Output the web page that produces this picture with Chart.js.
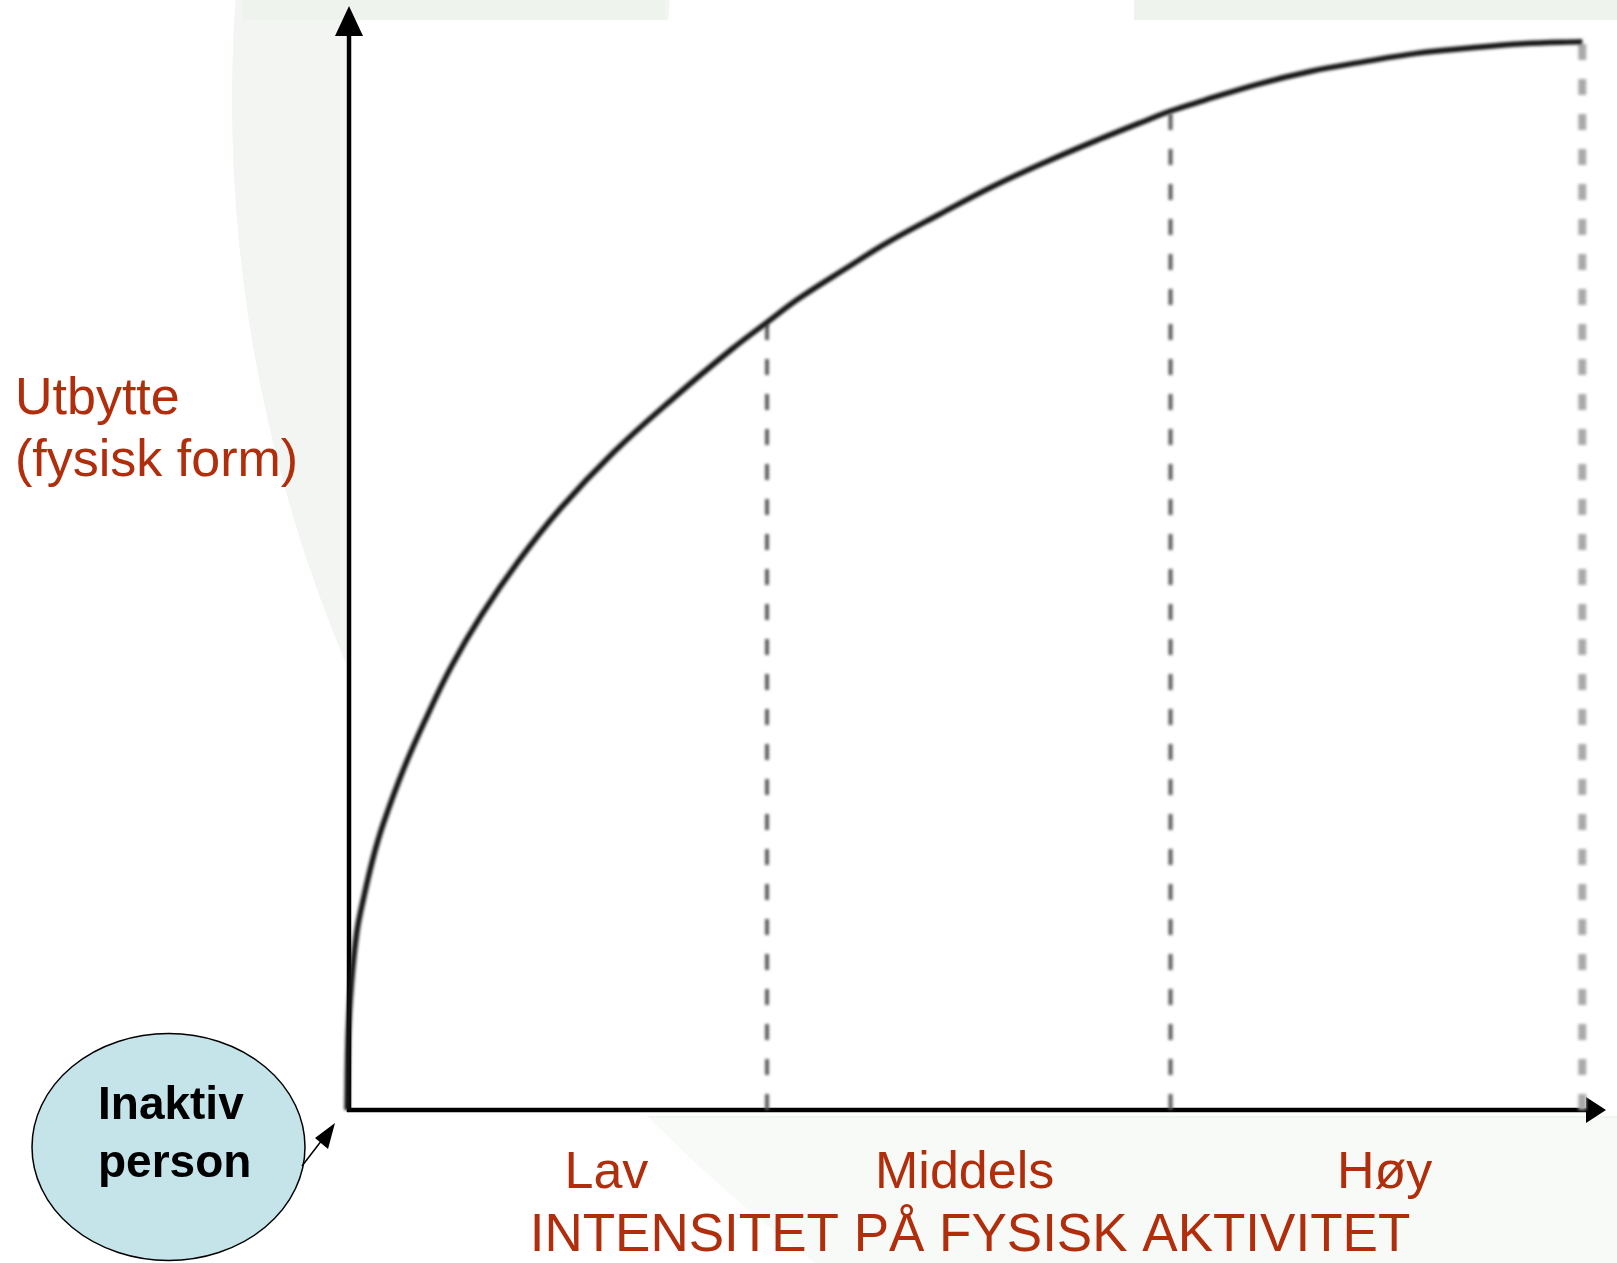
<!DOCTYPE html>
<html>
<head>
<meta charset="utf-8">
<script src="https://cdn.jsdelivr.net/npm/chart.js@4.4.1/dist/chart.umd.min.js"></script>
<style>
  html, body { margin: 0; padding: 0; background: #ffffff; }
  #wrap { width: 1617px; height: 1263px; position: relative; }
</style>
</head>
<body>
<div id="wrap"><canvas id="chart"></canvas></div>
<script>
// Intensity of physical activity (x) against benefit / fitness (y)
const intensity = [0, 0.003, 0.011, 0.024, 0.040, 0.064, 0.088, 0.137, 0.192, 0.254,
                   0.327, 0.416, 0.517, 0.647, 0.793, 0.935, 1.02, 1.100, 1.222, 1.309,
                   1.438, 1.567, 1.696, 1.824, 1.953, 2.0, 2.082, 2.211, 2.339, 2.468,
                   2.597, 2.726, 2.854, 3.0];
const benefit   = [0, 7.0, 12.0, 16.7, 19.8, 23.7, 26.8, 31.9, 36.7, 41.6,
                   46.4, 51.4, 56.3, 61.6, 66.7, 71.3, 73.8, 76.1, 79.1, 81.2,
                   83.9, 86.5, 88.8, 90.9, 92.9, 93.6, 94.6, 96.1, 97.3, 98.2,
                   99.0, 99.5, 99.9, 100.1];

// Upper edge of each intensity zone
const zoneBounds = [1.02, 2.0, 3.0];
// Zone names and where they sit along the intensity axis
const zoneLabels = ['Lav', 'Middels', 'Høy'];
const zoneLabelAt = [0.63, 1.50, 2.52];

const xTitle = 'INTENSITET PÅ FYSISK AKTIVITET';
const yTitle = ['Utbytte', '(fysisk form)'];
const startLabel = ['Inaktiv', 'person'];

const RED = '#b12e0c';
const FONT = '"Liberation Sans", Arial, Helvetica, sans-serif';

const curvePoints = intensity.map((x, i) => ({ x: x, y: benefit[i] }));

// vertical dashed markers, from the axis up to the curve
const boundDatasets = zoneBounds.map((b, i) => {
  const top = benefit[intensity.indexOf(b)];
  const last = i === zoneBounds.length - 1;
  return {
    data: [{ x: b, y: 0 }, { x: b, y: top }],
    borderColor: last ? '#a9a9a9' : '#5c5c5c',
    borderWidth: last ? 8 : 4,
    borderDash: [16, 19],
    pointRadius: 0,
    tension: 0,
    clip: false,
    order: 1
  };
});

function ringPath(ctx) {
  ctx.beginPath();
  ctx.arc(1683, 100, 1451, 0, Math.PI * 2);
  ctx.arc(1683, 100, 1018, 0, Math.PI * 2, true);
}

const decor = {
  id: 'decor',
  beforeDraw(chart) {
    const ctx = chart.ctx;
    const a = chart.chartArea;
    ctx.save();
    ctx.fillStyle = '#ffffff';
    ctx.fillRect(0, 0, chart.width, chart.height);
    // faint slide watermark: a wide ring and a top band
    ctx.save();
    ctx.beginPath();
    ctx.rect(0, 0, chart.width, a.bottom + 8);
    ctx.clip();
    ringPath(ctx);
    ctx.fillStyle = '#f2f5f1';
    ctx.fill('evenodd');
    ctx.restore();
    ctx.save();
    ctx.beginPath();
    ctx.rect(0, a.bottom + 8, chart.width, chart.height);
    ctx.clip();
    ringPath(ctx);
    ctx.fillStyle = '#f8faf7';
    ctx.fill('evenodd');
    ctx.restore();
    ctx.fillStyle = '#eef3ed';
    ctx.fillRect(1134, 0, chart.width - 1134, 20);
    ctx.fillRect(242, 0, 423, 20);
    // white plotting panel
    ctx.fillStyle = '#ffffff';
    ctx.fillRect(a.left - 1, 20, chart.width - a.left + 1, a.bottom + 6 - 20);
    ctx.restore();
  },
  beforeDatasetsDraw(chart) {
    const ctx = chart.ctx;
    const xs = chart.scales.x, ys = chart.scales.y;
    const x0 = xs.getPixelForValue(0) + 2, y0 = ys.getPixelForValue(0);
    const a = chart.chartArea;
    ctx.save();
    ctx.fillStyle = '#000';
    ctx.strokeStyle = '#000';
    ctx.lineWidth = 4.5;
    // y axis with arrow
    ctx.beginPath();
    ctx.moveTo(x0, y0 + 2);
    ctx.lineTo(x0, a.top + 32);
    ctx.stroke();
    ctx.beginPath();
    ctx.moveTo(x0, a.top + 6);
    ctx.lineTo(x0 - 14, a.top + 36);
    ctx.lineTo(x0 + 14, a.top + 36);
    ctx.closePath();
    ctx.fill();
    // x axis with arrow
    ctx.beginPath();
    ctx.moveTo(x0 - 2, y0);
    ctx.lineTo(a.right - 18, y0);
    ctx.stroke();
    ctx.beginPath();
    ctx.moveTo(a.right - 1, y0);
    ctx.lineTo(a.right - 21, y0 - 13);
    ctx.lineTo(a.right - 21, y0 + 13);
    ctx.closePath();
    ctx.fill();
    ctx.restore();
    ctx.save();
    ctx.filter = 'blur(1.5px)';
  },
  afterDatasetsDraw(chart) {
    chart.ctx.restore();
  },
  afterDraw(chart) {
    const ctx = chart.ctx;
    const xs = chart.scales.x;
    ctx.save();
    ctx.fillStyle = RED;
    ctx.textBaseline = 'alphabetic';
    // y title
    ctx.font = '52px ' + FONT;
    ctx.textAlign = 'left';
    ctx.fillText(yTitle[0], 15, 414);
    ctx.fillText(yTitle[1], 15, 476);
    // zone names
    ctx.textAlign = 'center';
    zoneLabels.forEach((t, i) => {
      ctx.fillText(t, xs.getPixelForValue(zoneLabelAt[i]), 1188);
    });
    // x title
    ctx.font = '53px ' + FONT;
    ctx.fillText(xTitle, 970, 1251);

    // "Inaktiv person" bubble
    ctx.beginPath();
    ctx.ellipse(168.5, 1147, 136.5, 113.5, 0, 0, Math.PI * 2);
    ctx.fillStyle = '#c5e4e9';
    ctx.fill();
    ctx.lineWidth = 1.5;
    ctx.strokeStyle = '#000';
    ctx.stroke();
    ctx.fillStyle = '#000';
    ctx.textAlign = 'left';
    ctx.font = 'bold 46px ' + FONT;
    ctx.fillText(startLabel[0], 98, 1119);
    ctx.fillText(startLabel[1], 98, 1177);

    // pointer from the bubble to the origin
    ctx.lineWidth = 1.5;
    ctx.beginPath();
    ctx.moveTo(302, 1166);
    ctx.lineTo(322, 1140);
    ctx.stroke();
    ctx.beginPath();
    ctx.moveTo(335, 1123);
    ctx.lineTo(315, 1138);
    ctx.lineTo(328, 1149);
    ctx.closePath();
    ctx.fill();
    ctx.restore();
  }
};

new Chart(document.getElementById('chart'), {
  type: 'line',
  data: {
    datasets: [
      {
        data: curvePoints,
        borderColor: '#141414',
        borderWidth: 5.5,
        pointRadius: 0,
        tension: 0.4,
        clip: false,
        order: 0
      },
      ...boundDatasets
    ]
  },
  options: {
    responsive: true,
    maintainAspectRatio: false,
    animation: false,
    events: [],
    layout: { padding: { left: 347, right: 10, top: 0, bottom: 153 } },
    plugins: { legend: { display: false }, tooltip: { enabled: false } },
    scales: {
      x: { type: 'linear', min: 0, max: 3.06, display: false },
      y: { type: 'linear', min: 0, max: 104, display: false }
    }
  },
  plugins: [decor]
});
</script>
</body>
</html>
